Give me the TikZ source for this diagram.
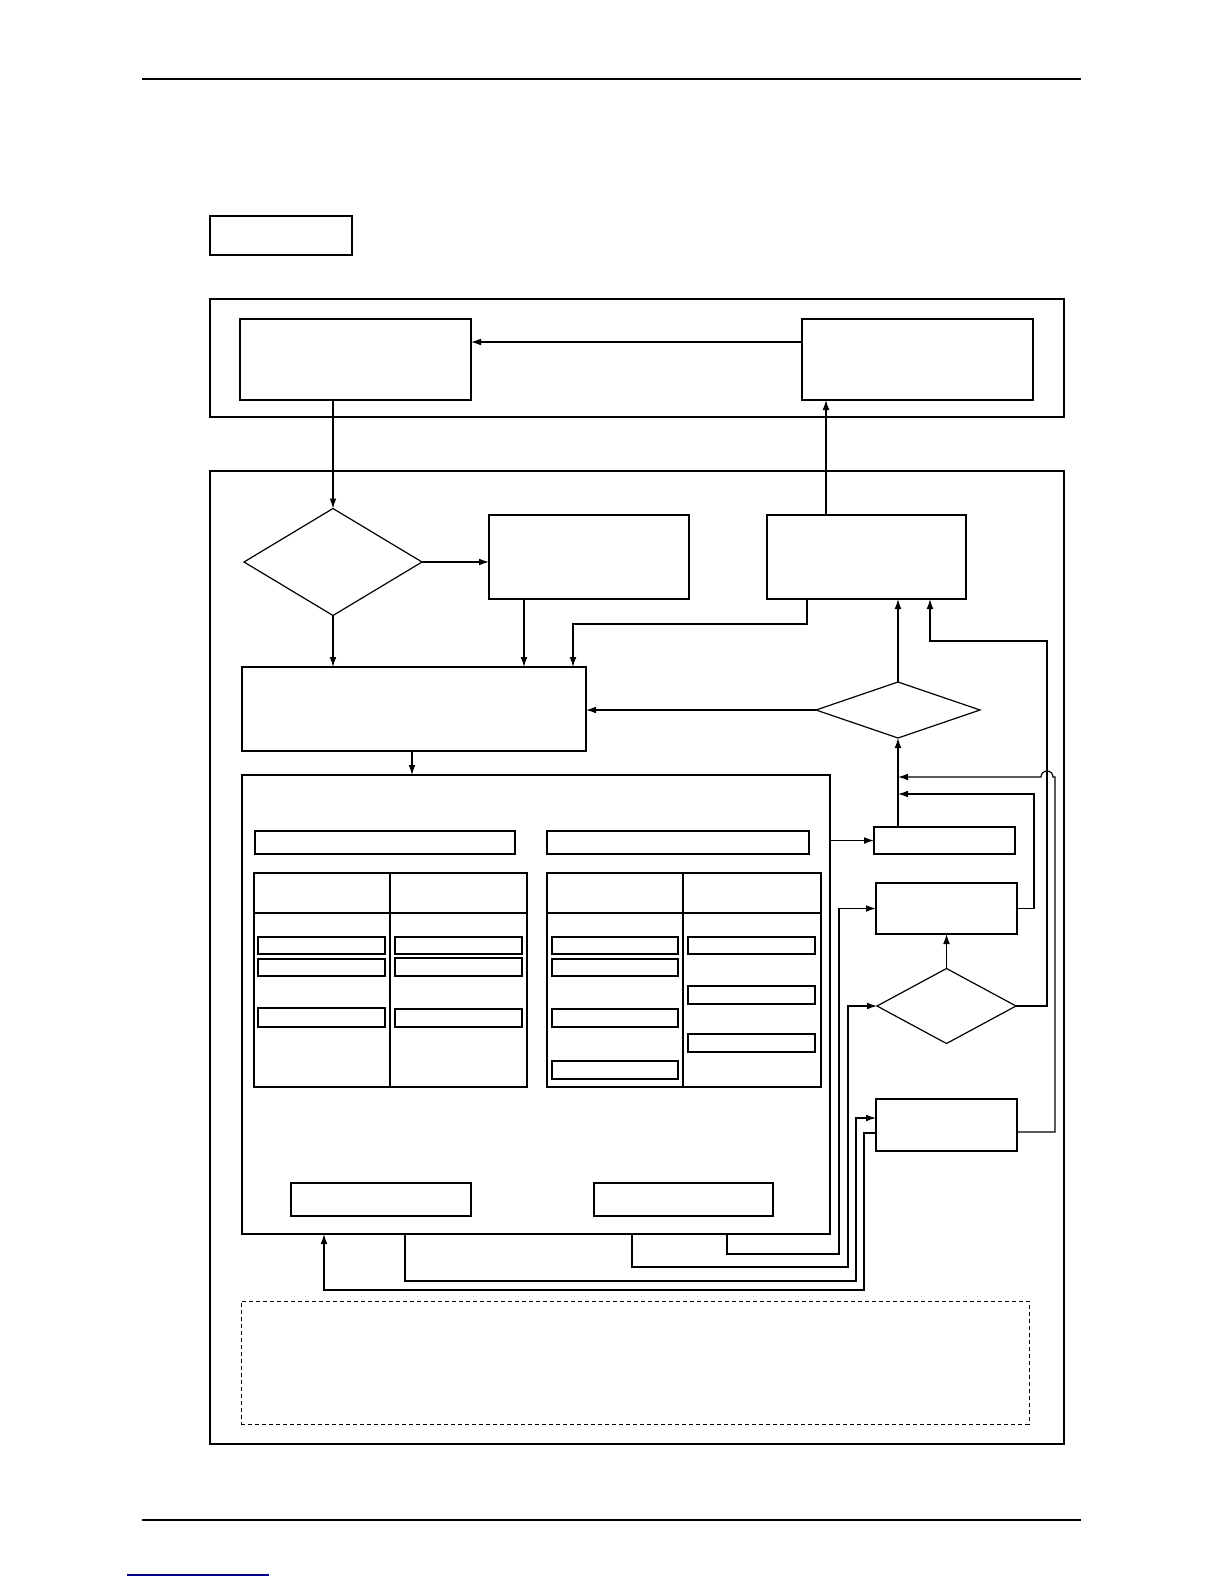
\documentclass[tikz,border=0pt]{standalone}
\usetikzlibrary{shapes.geometric,arrows.meta}
\newcommand\rbox[6][]{\node[bx,#1,minimum width={(#5-#3)*0.5pt},minimum height={(#6-#4)*0.5pt}] (#2) at ({(#3+#5)/2},{(#4+#6)/2}) {};}
\newcommand\rdia[6][]{\node[dia,#1,minimum width={#5*0.5pt},minimum height={#6*0.5pt}] (#2) at (#3,#4) {};}
\begin{document}
\begin{tikzpicture}[x=0.5pt,y=-0.5pt,
  bx/.style={draw,line width=0.7pt,inner sep=0pt,outer sep=0pt,rectangle},
  dia/.style={draw,line width=0.6pt,inner sep=0pt,outer sep=0pt,diamond},
  arr/.style={line width=0.6pt,-{Latex[length=5pt,width=3.4pt]}},
  ln/.style={line width=0.6pt},
  rule/.style={line width=1pt},
  dashbox/.style={draw,line width=0.5pt,dash pattern=on 2pt off 1.5pt,inner sep=0pt,outer sep=0pt,rectangle}]
\useasboundingbox (0,0) rectangle (1224,1584);
\fill[white] (0,0) rectangle (1224,1584);
% page rules
\coordinate (hl1) at (142,79); \coordinate (hl2) at (1081,79);
\coordinate (fl1) at (142,1520); \coordinate (fl2) at (1081,1520);
\draw[rule] (hl1) -- (hl2);
\draw[rule] (fl1) -- (fl2);
\coordinate (lk1) at (127,1575); \coordinate (lk2) at (269,1575);
\draw[line width=0.8pt,blue!55!black] (lk1) -- (lk2);
% title box
\rbox{sbox}{210}{216}{352}{255}
% upper frame
\rbox{out1}{210}{299}{1064}{417}
\rbox{A}{240}{319}{471}{400}
\rbox{B}{802}{319}{1033}{400}
% lower frame
\rbox{out2}{210}{471}{1064}{1444}
\rdia{d1}{333}{562}{178}{107}
\rbox{C}{489}{515}{689}{599}
\rbox{D}{767}{515}{966}{599}
\rbox{E}{242}{667}{586}{751}
\rdia{d2}{898}{710}{164}{56}
\rbox{F}{242}{775}{830}{1234}
\rbox{bar1}{255}{831}{515}{854}
\rbox{bar2}{547}{831}{809}{854}
\rbox{tabL}{254}{873}{527}{1087}
\rbox{tabR}{547}{873}{821}{1087}
\draw[line width=0.7pt] (390,873) -- (390,1087);
\draw[line width=0.7pt] (254,913) -- (527,913);
\draw[line width=0.7pt] (683,873) -- (683,1087);
\draw[line width=0.7pt] (547,913) -- (821,913);
% left table cells
\rbox{la1}{258}{937}{385}{954}
\rbox{la2}{258}{959}{385}{976}
\rbox{la3}{258}{1008}{385}{1027}
\rbox{lb1}{395}{937}{522}{954}
\rbox{lb2}{395}{958}{522}{976}
\rbox{lb3}{395}{1009}{522}{1027}
% right table cells
\rbox{ra1}{552}{937}{678}{954}
\rbox{ra2}{552}{959}{678}{976}
\rbox{ra3}{552}{1009}{678}{1027}
\rbox{ra4}{552}{1061}{678}{1079}
\rbox{rb1}{688}{937}{815}{954}
\rbox{rb2}{688}{986}{815}{1004}
\rbox{rb3}{688}{1034}{815}{1052}
% bottom inner boxes
\rbox{J}{291}{1183}{471}{1216}
\rbox{K}{594}{1183}{773}{1216}
% right column
\rbox{G}{874}{827}{1015}{854}
\rbox{I}{876}{883}{1017}{934}
\rdia{d3}{946.5}{1006}{139}{75}
\rbox{H}{876}{1099}{1017}{1151}
% dashed note box
\node[dashbox,minimum width={788*0.5pt},minimum height={123*0.5pt}] (note) at (635,1362.5) {};
% helper coordinates
\coordinate (ab) at (0,342);
\coordinate (ce) at (524,0);
\coordinate (de1) at (807,624); \coordinate (de2) at (573,624);
\coordinate (db) at (826,0);
\coordinate (r1) at (1047,641); \coordinate (r2) at (930,641);
\coordinate (ef) at (412,0);
\coordinate (i1) at (1034,794);
\coordinate (h0) at (0,1132);
\coordinate (h1) at (1055,777);
\coordinate (hop) at (1053,777);
\coordinate (b1a) at (727,1254); \coordinate (b1b) at (839,1254);
\coordinate (b2a) at (632,1267); \coordinate (b2b) at (848,1267);
\coordinate (b3a) at (405,1281); \coordinate (b3b) at (856,1281);
\coordinate (h2) at (0,1118);
\coordinate (h3) at (0,1133);
\coordinate (b4a) at (864,1290); \coordinate (b4b) at (324,1290);
% connectors
\draw[arr] (B.west |- ab) -- (A.east |- ab);
\draw[arr] (A.south -| d1.north) -- (d1.north);
\draw[arr] (d1.east) -- (C.west |- d1.east);
\draw[arr] (d1.south) -- (E.north -| d1.south);
\draw[arr] (C.south -| ce) -- (E.north -| ce);
\draw[arr] (D.south -| de1) -- (de1) -- (de2) -- (E.north -| de2);
\draw[arr] (D.north -| db) -- (B.south -| db);
\draw[arr] (d2.west) -- (E.east |- d2.west);
\draw[arr] (d2.north) -- (D.south -| d2.north);
\draw[arr] (d3.east) -| (r1) -- (r2) -- (D.south -| r2);
\draw[arr] (E.south -| ef) -- (F.north -| ef);
\draw[arr] (F.east |- G.west) -- (G.west);
\draw[arr] (G.north -| d2.south) -- (d2.south);
\draw[arr] (I.east) -| (i1) -- (i1 -| d2.south);
\draw[arr] (H.east |- h0) -| (h1) -- (hop) arc[start angle=0,end angle=-180,radius=6] -- (h1 -| d2.south);
\draw[arr] (d3.north) -- (I.south -| d3.north);
\draw[arr] (F.south -| b1a) -- (b1a) -- (b1b) |- (I.west);
\draw[arr] (F.south -| b2a) -- (b2a) -- (b2b) |- (d3.west);
\draw[arr] (F.south -| b3a) -- (b3a) -- (b3b) |- (H.west |- h2);
\draw[arr] (H.west |- h3) -| (b4a) -- (b4b) -- (F.south -| b4b);
\end{tikzpicture}
\end{document}
